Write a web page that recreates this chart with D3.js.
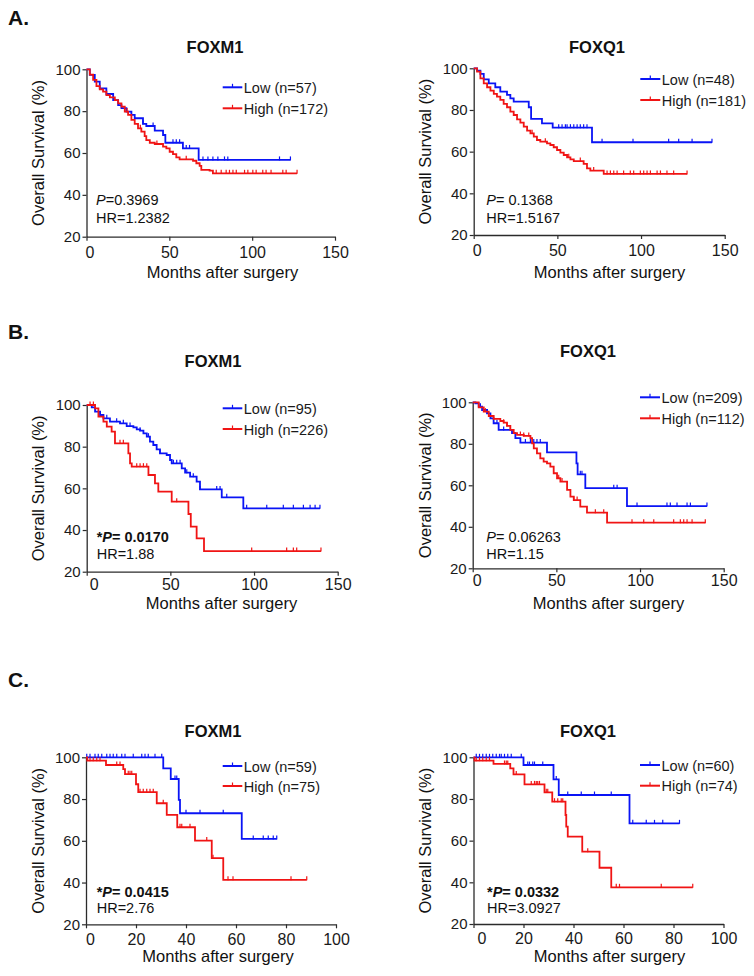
<!DOCTYPE html>
<html>
<head>
<meta charset="utf-8">
<script src="https://cdn.jsdelivr.net/npm/d3@7"></script>
<style>
  html, body { margin: 0; padding: 0; background: #fff; }
  svg { display: block; font-family: "Liberation Sans", Arial, sans-serif; }
</style>
</head>
<body>
<svg id="chart" width="754" height="976"></svg>
<script>
// ---------------- DATA ----------------
// Each step list: [month, survival % after the drop]; censor lists: months of censored cases.
const sectionLabels = ["A.", "B.", "C."];
const geneTitles = ["FOXM1", "FOXQ1"];
const yTickValues = [20, 40, 60, 80, 100];
const xTicks150 = [0, 50, 100, 150];
const xTicks100 = [0, 20, 40, 60, 80, 100];
const xAxisTitle = "Months after surgery";
const yAxisTitle = "Overall Survival (%)";

// A. FOXM1
const aFoxm1LowLabel = "Low (n=57)";
const aFoxm1HighLabel = "High (n=172)";
const aFoxm1LowSteps = [[2,97.3],[5,94.1],[8,90.9],[12,88.2],[16.1,85.3],[19.1,82.9],[21.1,81.4],[24.1,79.8],[27.1,78.2],[29.1,76.6],[34.1,73.9],[36.1,72.9],[41.2,70.7],[46.2,68.6],[47.6,64.9],[58.2,62.2],[67.7,56.7]];
const aFoxm1LowCensor = [24.1,34.1,40.2,52.2,54.2,56.2,60.2,62.2,70.3,73.3,76.3,79.3,83.3,85.3,116.5,123.1];
const aFoxm1HighSteps = [[2,97.5],[4,94.9],[6,92.0],[8,90.4],[10,89.3],[12,87.7],[14.1,86.6],[17.1,85.3],[19.1,83.7],[21.1,82.2],[23.1,79.8],[25.1,78.2],[27.1,75.8],[29.1,73.9],[31.1,71.8],[33.1,70.2],[35.1,68.1],[36.1,66.2],[38.2,64.9],[41.2,64.3],[46.2,63.0],[48.2,62.2],[50.2,60.6],[52.2,59.5],[54.2,57.9],[56.2,57.0],[64.3,56.3],[66.3,55.1],[68.3,53.8],[69.3,51.9],[74.3,51.6],[76.3,50.3]];
const aFoxm1HighCensor = [24.5,32.5,42.5,60.2,78.3,81.3,84.3,86.3,88.4,90.4,95.4,97.4,100.4,102.4,106.4,108.4,111.4,118.5,120.5,127.1];
const aFoxm1Stats = ["", "P", "=0.3969", "HR=1.2382"];

// A. FOXQ1
const aFoxq1LowLabel = "Low (n=48)";
const aFoxq1HighLabel = "High (n=181)";
const aFoxq1LowSteps = [[2,98.9],[4,97.3],[6,94.7],[9,92.8],[12.9,90.9],[15.9,88.8],[19.9,87.2],[21.9,85.6],[23.9,84.0],[32.9,81.3],[34.3,75.7],[40.8,73.6],[47.2,71.5],[70.7,64.5]];
const aFoxq1LowCensor = [50.8,52.8,54.8,55.8,57.8,59.8,61.8,63.7,65.7,67.7,76.7,95.2,116.5,122.5,130.5,142.4];
const aFoxq1HighSteps = [[2,98.4],[4,95.2],[6,92.8],[8,90.9],[10,89.3],[12,87.7],[13.9,86.4],[15.9,84.8],[17.9,82.9],[19.9,81.3],[21.9,79.2],[23.9,77.6],[25.9,75.5],[27.9,73.9],[29.9,72.0],[31.9,70.1],[33.9,68.8],[35.9,67.2],[37.8,65.6],[39.8,64.8],[43.8,64.0],[45.8,63.2],[47.8,62.1],[49.8,60.8],[51.8,59.5],[53.8,58.4],[55.8,57.3],[57.8,56.3],[59.8,55.5],[65.7,54.1],[67.7,52.0],[69.7,50.9],[77.7,49.3]];
const aFoxq1HighCensor = [34.9,42.8,56.8,63.7,71.7,79.7,81.7,83.7,85.7,89.6,93.6,95.6,99.6,101.6,103.6,105.6,109.6,111.6,115.5,119.5,127.5];
const aFoxq1Stats = ["", "P", "= 0.1368", "HR=1.5167"];

// B. FOXM1
const bFoxm1LowLabel = "Low (n=95)";
const bFoxm1HighLabel = "High (n=226)";
const bFoxm1LowSteps = [[3,98.9],[5,96.8],[8,95.2],[10,93.6],[13.9,92.0],[19.9,91.2],[23.9,89.9],[27.9,89.3],[29.9,88.3],[31.9,87.7],[33.9,86.4],[35.9,84.8],[37.8,82.4],[39.8,80.8],[41.8,78.7],[43.8,76.8],[47.8,76.0],[49.8,73.6],[50.8,72.0],[56.8,69.6],[58.8,67.5],[61.8,65.6],[65.7,63.2],[67.7,59.5],[80.7,55.7],[93.6,50.4]];
const bFoxm1LowCensor = [8,12,17.9,21.9,25.9,31.9,36.9,43.8,51.8,53.8,55.8,59.8,63.7,67.7,77.7,79.7,83.7,95.6,107.6,117.5,123.5,129.5,133.5,136.5,139.4];
const bFoxm1HighSteps = [[5,98.4],[7,94.4],[10,92.0],[12,89.6],[14.9,87.2],[16.9,81.6],[24.9,76.8],[25.9,72.0],[26.9,70.4],[36.9,66.4],[40.8,62.4],[42.8,58.4],[50.8,53.6],[60.8,47.7],[62.2,41.6],[65.7,36.0],[70.1,29.9]];
const bFoxm1HighCensor = [2,4,19.9,21.9,29.9,31.9,33.9,35.9,53.8,98.6,119.5,123.5,125.5,140];
const bFoxm1Stats = ["*", "P", "= 0.0170", "HR=1.88"];

// B. FOXQ1
const bFoxq1LowLabel = "Low (n=209)";
const bFoxq1HighLabel = "High (n=112)";
const bFoxq1LowSteps = [[1.6,99.5],[3.6,97.9],[5.6,96.3],[8.6,94.7],[10.6,92.3],[12.5,89.9],[15.5,86.7],[23.5,85.1],[25.5,82.7],[28.5,80.6],[44.4,75.9],[62.0,70.6],[62.7,65.3],[67.3,58.6],[92.2,50.0]];
const bFoxq1LowCensor = [4.6,8.6,14.5,18.5,22.5,31.5,34.5,36.5,38.4,40.4,64.3,65.3,84.3,86.3,98.2,116.1,118.1,122.1,128.1,130.1,140];
const bFoxq1HighSteps = [[3.6,97.6],[6.6,95.5],[9.6,93.4],[12.5,92.0],[16.5,91.0],[18.5,90.2],[20.5,88.6],[22.5,86.7],[24.5,85.1],[26.5,84.3],[30.5,83.8],[34.5,82.7],[35.5,80.2],[36.5,77.8],[38.4,75.4],[40.4,73.0],[42.4,71.4],[44.4,70.6],[46.4,69.0],[48.4,65.8],[50.4,63.4],[52.4,61.8],[56.4,57.8],[58.4,54.5],[60.4,52.9],[64.3,49.7],[68.3,46.8],[80.3,42.0]];
const bFoxq1HighCensor = [7.6,12.5,18.5,20.5,28.5,30.5,33.5,51.4,53.4,60.4,62.4,73.3,78.3,95.2,102.2,108.2,120.1,124.1,126.1,128.1,131.1,139];
const bFoxq1Stats = ["", "P", "= 0.06263", "HR=1.15"];

// C. FOXM1
const cFoxm1LowLabel = "Low (n=59)";
const cFoxm1HighLabel = "High (n=75)";
const cFoxm1LowSteps = [[30.9,94.7],[33.9,89.6],[37.1,79.6],[37.6,73.2],[62.3,60.9]];
const cFoxm1LowCensor = [0.3,1.6,3.6,4.9,6.3,8.3,9.6,10.9,12.3,14.3,15.6,18.9,22.3,23.6,24.9,27.6,30.3,35.6,36.3,40.0,45.6,54.9,66.9,70.9,72.9,74.9,76.3];
const cFoxm1HighSteps = [[0.5,98.4],[8.0,96.3],[14.9,94.3],[15.6,91.9],[20.0,87.1],[20.9,83.3],[28.3,78.0],[32.3,72.4],[36.5,66.5],[43.6,60.1],[50.3,51.7],[54.9,41.3]];
const cFoxm1HighCensor = [1.6,2.9,4.3,5.6,12.3,13.6,16.9,17.6,18.3,21.6,22.9,24.3,25.6,26.9,30.9,37.6,38.3,41.6,48.3,50.8,56.8,58.8,82.0,88.3];
const cFoxm1Stats = ["*", "P", "= 0.0415", "HR=2.76"];

// C. FOXQ1
const cFoxq1LowLabel = "Low (n=60)";
const cFoxq1HighLabel = "High (n=74)";
const cFoxq1LowSteps = [[20.0,96.3],[32.0,89.4],[34.1,81.9],[62.4,68.3]];
const cFoxq1LowCensor = [1.1,2.4,3.7,5.1,6.4,7.7,9.1,10.4,11.1,12.4,13.7,15.1,19.1,21.7,22.4,23.7,24.4,27.7,33.1,37.7,43.1,48.4,55.1,63.7,69.1,72.4,75.7,82.4];
const cFoxq1HighSteps = [[0.4,98.4],[8.0,96.8],[14.7,94.7],[16.0,91.8],[20.4,87.0],[28.4,83.2],[31.5,78.7],[36.8,72.3],[37.1,66.7],[37.7,61.9],[43.5,54.7],[50.4,47.0],[55.1,37.6]];
const cFoxq1HighCensor = [1.1,2.4,3.7,5.1,6.4,12.4,13.1,13.7,17.1,23.1,24.4,25.1,25.7,26.4,29.1,29.7,32.4,33.7,35.1,35.7,45.7,57.1,58.4,75.1,87.7];
const cFoxq1Stats = ["*", "P", "= 0.0332", "HR=3.0927"];

// ---------------- DRAWING ----------------
const LOW_COLOR = "#0a14f5";
const HIGH_COLOR = "#f01414";
const AXIS_COLOR = "#2b2b2b";

const svg = d3.select("#chart");

// section labels
[[8, 25], [8, 339], [8, 687]].forEach((p, i) => {
  svg.append("text").attr("x", p[0]).attr("y", p[1])
    .attr("font-size", 21).attr("font-weight", "bold").attr("fill", "#111")
    .text(sectionLabels[i]);
});

function survivalAt(steps, t) {
  let s = 100;
  for (const st of steps) { if (st[0] <= t) s = st[1]; else break; }
  return s;
}

function drawPanel(cfg) {
  const g = svg.append("g");
  const x = d3.scaleLinear().domain([0, cfg.xMax]).range(cfg.xr);
  const y = d3.scaleLinear().domain([20, 100]).range(cfg.yr);

  // axes
  const yAxis = g.append("g").attr("transform", `translate(${cfg.xr[0]},0)`)
    .call(d3.axisLeft(y).tickValues(yTickValues).tickSize(4).tickSizeOuter(0).tickPadding(2));
  const xAxis = g.append("g").attr("transform", `translate(0,${cfg.yr[0]})`)
    .call(d3.axisBottom(x).tickValues(cfg.xTicks).tickSize(4).tickSizeOuter(0).tickPadding(cfg.xPad));
  [yAxis, xAxis].forEach(a => {
    a.select(".domain").attr("stroke", AXIS_COLOR).attr("stroke-width", 1.3);
    a.selectAll(".tick line").attr("stroke", AXIS_COLOR).attr("stroke-width", 1.2);
    a.selectAll(".tick text").attr("fill", "#1a1a1a")
      .attr("font-family", "Liberation Sans, Arial, sans-serif");
  });
  yAxis.selectAll(".tick text").attr("font-size", 15);
  xAxis.selectAll(".tick text").attr("font-size", 16)
    .attr("dx", d => d === 0 ? cfg.zeroDx : 0);

  // curves
  const series = [
    { steps: cfg.low, censor: cfg.lowC, color: LOW_COLOR },
    { steps: cfg.high, censor: cfg.highC, color: HIGH_COLOR }
  ];
  series.forEach(sr => {
    const end = Math.max(d3.max(sr.censor), sr.steps[sr.steps.length - 1][0]);
    const pts = [[0, 100]];
    let prev = 100;
    sr.steps.forEach(st => { pts.push([st[0], prev]); pts.push([st[0], st[1]]); prev = st[1]; });
    pts.push([end, prev]);
    const line = d3.line().x(d => x(d[0])).y(d => y(d[1]));
    g.append("path").attr("d", line(pts)).attr("fill", "none")
      .attr("stroke", sr.color).attr("stroke-width", 1.8).attr("stroke-linejoin", "miter");
    g.selectAll(null).data(sr.censor).enter().append("line")
      .attr("x1", d => x(d)).attr("x2", d => x(d))
      .attr("y1", d => y(survivalAt(sr.steps, d)) + 0.5)
      .attr("y2", d => y(survivalAt(sr.steps, d)) - 3.5)
      .attr("stroke", sr.color).attr("stroke-width", 1.2);
  });

  // title
  g.append("text").attr("x", cfg.title[0]).attr("y", cfg.title[1])
    .attr("text-anchor", "middle").attr("font-size", 16.5).attr("font-weight", "bold")
    .attr("fill", "#111").text(cfg.titleText);

  // legend
  [[cfg.legY[0], LOW_COLOR, cfg.lowLabel], [cfg.legY[1], HIGH_COLOR, cfg.highLabel]].forEach(l => {
    g.append("line").attr("x1", cfg.legX[0]).attr("x2", cfg.legX[1])
      .attr("y1", l[0]).attr("y2", l[0]).attr("stroke", l[1]).attr("stroke-width", 2);
    const mid = (cfg.legX[0] + cfg.legX[1]) / 2;
    g.append("line").attr("x1", mid).attr("x2", mid).attr("y1", l[0]).attr("y2", l[0] - 3.5)
      .attr("stroke", l[1]).attr("stroke-width", 1.2);
    g.append("text").attr("x", cfg.legX[1] + 1.5).attr("y", l[0]).attr("dy", "0.38em")
      .attr("font-size", 14.5).attr("fill", "#1a1a1a").text(l[2]);
  });

  // stats
  const st = cfg.stats;
  const bold = st[0] === "*";
  const t1 = g.append("text").attr("x", cfg.statX).attr("y", cfg.statY[0])
    .attr("font-size", 14.5).attr("fill", "#111").attr("font-weight", bold ? "bold" : "normal");
  if (st[0]) t1.append("tspan").text(st[0]);
  t1.append("tspan").attr("font-style", "italic").text(st[1]);
  t1.append("tspan").text(st[2]);
  g.append("text").attr("x", cfg.statX).attr("y", cfg.statY[1])
    .attr("font-size", 14.5).attr("fill", "#111").text(st[3]);

  // axis titles
  const yc = (cfg.yr[0] + cfg.yr[1]) / 2;
  g.append("text").attr("transform", `translate(${cfg.yLabelX},${yc}) rotate(-90)`)
    .attr("text-anchor", "middle").attr("dy", "0.36em").attr("font-size", 16.5)
    .attr("fill", "#111").text(yAxisTitle);
  g.append("text").attr("x", cfg.xLabel[0]).attr("y", cfg.xLabel[1])
    .attr("text-anchor", "middle").attr("font-size", 16.5).attr("fill", "#111").text(xAxisTitle);
}

drawPanel({ xMax: 150, xTicks: xTicks150, xr: [86.5, 335], yr: [236.7, 69.3], xPad: 6, zeroDx: 3,
  titleText: geneTitles[0], title: [215, 52.5], legX: [222.7, 242.3], legY: [87.3, 108.3],
  lowLabel: aFoxm1LowLabel, highLabel: aFoxm1HighLabel, low: aFoxm1LowSteps, lowC: aFoxm1LowCensor,
  high: aFoxm1HighSteps, highC: aFoxm1HighCensor, stats: aFoxm1Stats, statX: 96, statY: [205, 222.7],
  yLabelX: 38.3, xLabel: [222.5, 278] });

drawPanel({ xMax: 150, xTicks: xTicks150, xr: [473.7, 724.7], yr: [235, 68.3], xPad: 6, zeroDx: 3,
  titleText: geneTitles[1], title: [597, 52.7], legX: [640.3, 660.3], legY: [79, 100],
  lowLabel: aFoxq1LowLabel, highLabel: aFoxq1HighLabel, low: aFoxq1LowSteps, lowC: aFoxq1LowCensor,
  high: aFoxq1HighSteps, highC: aFoxq1HighCensor, stats: aFoxq1Stats, statX: 486.3, statY: [205, 222.7],
  yLabelX: 425.3, xLabel: [609.5, 278] });

drawPanel({ xMax: 150, xTicks: xTicks150, xr: [86.7, 337.7], yr: [571.7, 405], xPad: 2.5, zeroDx: 7,
  titleText: geneTitles[0], title: [213, 366.7], legX: [222.7, 242.3], legY: [408.3, 429],
  lowLabel: bFoxm1LowLabel, highLabel: bFoxm1HighLabel, low: bFoxm1LowSteps, lowC: bFoxm1LowCensor,
  high: bFoxm1HighSteps, highC: bFoxm1HighCensor, stats: bFoxm1Stats, statX: 96.7, statY: [542.3, 559.3],
  yLabelX: 38.3, xLabel: [221.5, 609] });

drawPanel({ xMax: 150, xTicks: xTicks150, xr: [472.7, 723.7], yr: [568.3, 402.3], xPad: 2.5, zeroDx: 4,
  titleText: geneTitles[1], title: [588, 356.7], legX: [640, 660], legY: [397.3, 418.3],
  lowLabel: bFoxq1LowLabel, highLabel: bFoxq1HighLabel, low: bFoxq1LowSteps, lowC: bFoxq1LowCensor,
  high: bFoxq1HighSteps, highC: bFoxq1HighCensor, stats: bFoxq1Stats, statX: 486.3, statY: [542.3, 559.3],
  yLabelX: 425.3, xLabel: [608.5, 609] });

drawPanel({ xMax: 100, xTicks: xTicks100, xr: [86, 336], yr: [924.3, 757.3], xPad: 5, zeroDx: 4,
  titleText: geneTitles[0], title: [213, 737], legX: [222.7, 242.3], legY: [766, 786],
  lowLabel: cFoxm1LowLabel, highLabel: cFoxm1HighLabel, low: cFoxm1LowSteps, lowC: cFoxm1LowCensor,
  high: cFoxm1HighSteps, highC: cFoxm1HighCensor, stats: cFoxm1Stats, statX: 96.7, statY: [896.7, 913.3],
  yLabelX: 38.3, xLabel: [218, 962] });

drawPanel({ xMax: 100, xTicks: xTicks100, xr: [473.5, 723.5], yr: [924, 757.3], xPad: 5, zeroDx: 8,
  titleText: geneTitles[1], title: [588, 737], legX: [640, 660], legY: [765, 785.7],
  lowLabel: cFoxq1LowLabel, highLabel: cFoxq1HighLabel, low: cFoxq1LowSteps, lowC: cFoxq1LowCensor,
  high: cFoxq1HighSteps, highC: cFoxq1HighCensor, stats: cFoxq1Stats, statX: 487, statY: [896.7, 913.3],
  yLabelX: 425.3, xLabel: [609.5, 962] });
</script>
</body>
</html>
